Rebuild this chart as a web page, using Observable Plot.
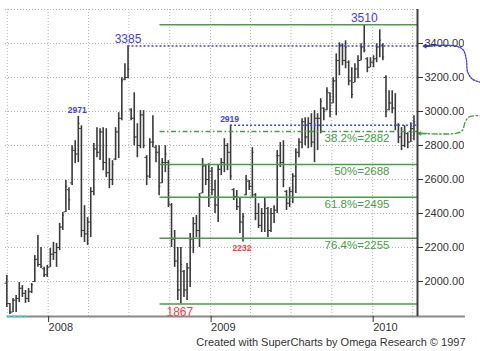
<!DOCTYPE html>
<html><head><meta charset="utf-8">
<script src="https://cdn.jsdelivr.net/npm/d3@7"></script>
<script src="https://cdn.jsdelivr.net/npm/@observablehq/plot@0.6"></script>
<style>
html,body{margin:0;padding:0;background:#fff;}
#chart{width:480px;height:351px;overflow:hidden;}
</style></head><body><div id="chart"></div>
<script>
// ---- data (weekly OHLC bars) ----
const firstBar = "2007-09-30";
const highs = [2035,1871,1900,1918,1994,1976,1947,1959,1988,2153,
2271,2200,2083,2094,2194,2230,2224,2341,2406,2594,
2552,2799,2828,2971,2916,2446,2376,2552,2811,2905,
2899,2905,2899,2723,2711,2905,2993,3198,3281,3385,
3016,3110,2928,3005,3005,2740,2840,2975,2799,2799,
2723,2799,2711,2458,2300,2200,2200,2065,2106,2282,
2376,2388,2517,2723,2682,2693,2670,2594,2682,2723,
2840,2811,2919,2546,2535,2488,2400,2623,2594,2787,
2517,2458,2429,2488,2435,2429,2446,2770,2817,2828,
2535,2552,2634,2781,2840,2958,2963,2963,2987,3005,
2987,3075,3022,3140,3110,3198,3339,3404,3398,3416,
3298,3257,3281,3328,3398,3510,3316,3316,3328,3398,
3480,3398,3210,3122,3122,3105,2928,2905,2916,2875,
2934,2975];
const lows = [1847,1806,1818,1818,1876,1906,1871,1876,1929,1994,
2083,2077,2024,2024,2083,2124,2083,2182,2300,2406,
2418,2564,2693,2699,2258,2229,2212,2258,2505,2728,
2711,2652,2611,2546,2564,2711,2723,2946,3181,3193,
2946,2799,2728,2781,2781,2564,2605,2787,2699,2505,
2576,2640,2435,2200,2083,1888,1867,1906,1888,1965,
2165,2259,2200,2517,2564,2435,2505,2400,2347,2623,
2640,2652,2594,2476,2418,2282,2232,2505,2535,2494,
2358,2312,2288,2288,2259,2288,2341,2400,2670,2552,
2418,2435,2458,2517,2728,2781,2799,2781,2787,2699,
2770,2869,2946,3005,2963,3046,2975,3210,3269,3251,
3151,3075,3169,3193,3298,3345,3228,3257,3257,3287,
3316,3298,2963,3005,2987,2887,2811,2770,2787,2781,
2817,2828];
const opens = [1990,1870,1820,1890,1900,1960,1930,1900,1940,2000,
2130,2100,2075,2040,2085,2160,2170,2200,2320,2410,
2540,2580,2770,2750,2900,2300,2280,2350,2530,2780,
2760,2880,2700,2640,2600,2720,2880,2960,3190,3200,
3010,2960,2850,2800,2980,2730,2620,2820,2790,2760,
2580,2700,2700,2450,2250,2120,1950,2060,1950,2080,
2250,2340,2300,2520,2680,2600,2650,2540,2450,2660,
2700,2800,2760,2540,2500,2440,2350,2510,2590,2560,
2510,2400,2330,2400,2430,2300,2400,2420,2740,2700,
2530,2460,2530,2620,2760,2820,2940,2850,2930,2820,
2960,2960,3020,3010,3110,3050,3180,3300,3390,3300,
3290,3180,3170,3250,3300,3380,3310,3260,3290,3310,
3380,3390,3200,3010,3050,3020,2920,2850,2800,2870,
2820,2900];
const closes = [1870,1820,1890,1900,1960,1930,1900,1940,1980,2130,
2100,2090,2040,2080,2160,2170,2200,2320,2390,2560,
2480,2780,2750,2930,2300,2280,2350,2530,2780,2760,
2880,2700,2640,2600,2690,2880,2960,3180,3200,3250,
2960,2850,2800,2980,2800,2620,2820,2820,2760,2560,
2700,2750,2460,2250,2120,1950,2100,1950,2080,2250,
2340,2300,2500,2680,2600,2650,2540,2450,2660,2700,
2800,2760,2620,2500,2440,2350,2380,2600,2560,2760,
2400,2330,2400,2450,2300,2400,2420,2740,2700,2600,
2460,2530,2620,2760,2820,2940,2850,2930,2820,2960,
2960,3060,3000,3120,3000,3180,3300,3390,3300,3380,
3180,3100,3250,3300,3380,3360,3260,3290,3310,3380,
3420,3320,3000,3050,3020,2920,2850,2800,2880,2820,
2900,2940];

const yTicks = [2000,2200,2400,2600,2800,3000,3200,3400];
const gridValues = [2000,2200,2400,2600,2800,3000,3200,3400,3600];
const yearTicks = ["2008-01-01","2009-01-01","2010-01-01"];
const caption = "Created with SuperCharts by Omega Research \u00A9 1997";

// swing highs / lows that are labelled (bar indices)
const bigHighBars = [39, 115];      // 3385, 3510
const smallHighBars = [23, 72];     // 2971, 2919
const bigLowBars = [56];            // 1867
const smallLowBars = [76];          // 2232
const blueLevelBars = [39, 72];     // dotted lines 3385, 2919

// Fibonacci retracement levels 1867 -> 3510
const fibLevels = [3510, 2882, 2688, 2495, 2255, 1867];
const fibNames  = ["", "38.2%", "50%", "61.8%", "76.4%", ""];
const fibStart = "2008-09-09";
const fibLabelAt = "2010-02-08";

// annotation loops beyond the right axis: [days after axis end, value]
const blueLoop  = [[16,3385],[86,3385],[103,3362],[110,3305],[113,3232],[124,3190],[142,3172]];
const greenLoop = [[7,2871],[86,2871],[101,2888],[107,2935],[116,2968],[142,2976]];

// ---- build ----
const X0 = new Date("2007-09-27"), X1 = new Date("2010-04-12");
const Y0 = 1794, Y1 = 3600;
const bars = highs.map((h,i)=>({date: d3.utcDay.offset(new Date(firstBar), 7*i), high:h, low:lows[i], open:opens[i], close:closes[i]}));
const lbl = idx => idx.map(i=>bars[i]);
const fib = fibLevels.map((v,i)=>({value:v, name:fibNames[i], label: fibNames[i] ? `${fibNames[i]}=${v}` : ""}));
const after = d => d3.utcDay.offset(X1, d);
const blueLine = blueLoop.map(([d,v])=>({date:after(d), value:v}));
const greenLine = greenLoop.map(([d,v])=>({date:after(d), value:v}));
const quarters = d3.utcMonth.every(3).range(new Date("2007-10-01"), new Date("2010-04-02"));

const BLUE = "#4040f0", RED = "#ff3b3b", GREEN = "#45a045", BAR = "#3a3a3a", GRID = "#b4b4b4";
const FONT = "'Liberation Sans', Arial, sans-serif";

const chart = Plot.plot({
  width: 480, height: 351,
  marginLeft: 5, marginRight: 63, marginTop: 9, marginBottom: 35,
  x: {type: "utc", domain: [X0, X1]},
  y: {domain: [Y0, Y1]},
  style: {background: "#fff", color: "#333", fontFamily: FONT, fontSize: "11px", overflow: "visible"},
  marks: [
    Plot.ruleY(gridValues, {stroke: GRID, strokeDasharray: "1,2", strokeWidth: 1}),
    Plot.ruleX(quarters, {stroke: GRID, strokeDasharray: "1,2", strokeWidth: 1}),
    // OHLC bars
    Plot.ruleX(bars, {x: "date", y1: "low", y2: "high", stroke: BAR, strokeWidth: 1.6}),
    Plot.ruleY(bars, {y: "open", x1: d=>d3.utcDay.offset(d.date,-4), x2: "date", stroke: BAR, strokeWidth: 1}),
    Plot.ruleY(bars, {y: "close", x1: "date", x2: d=>d3.utcDay.offset(d.date,4), stroke: BAR, strokeWidth: 1}),
    // fibonacci levels
    Plot.ruleY(fib.filter(d=>d.name!=="38.2%"), {y: "value", x1: new Date(fibStart), x2: X1, stroke: GREEN, strokeWidth: 1.5}),
    Plot.ruleY(fib.filter(d=>d.name==="38.2%"), {y: "value", x1: new Date(fibStart), x2: X1, stroke: GREEN, strokeWidth: 1.5, strokeDasharray: "5,2.5,1.5,2.5"}),
    Plot.text(fib.filter(d=>d.label), {x: new Date(fibLabelAt), y: "value", text: "label", textAnchor: "end", lineAnchor: "top", dy: 2.5, fill: GREEN, fontSize: 11.5}),
    // blue swing-high levels
    Plot.ruleY(lbl(blueLevelBars), {y: "high", x1: "date", x2: X1, stroke: BLUE, strokeWidth: 1.4, strokeDasharray: "2,2"}),
    Plot.line(blueLine, {x: "date", y: "value", stroke: BLUE, strokeWidth: 1.4, strokeDasharray: "1.5,1.5", curve: "catmull-rom"}),
    Plot.line(greenLine, {x: "date", y: "value", stroke: GREEN, strokeWidth: 1.4, strokeDasharray: "5,2.5,1.5,2.5", curve: "catmull-rom"}),
    Plot.arrow([3385], {x1: after(34), x2: after(13), y1: d=>d, y2: d=>d, stroke: BLUE, strokeWidth: 1.5, headLength: 6}),
    Plot.arrow([2871], {x1: after(20), x2: after(2), y1: d=>d, y2: d=>d, stroke: GREEN, strokeWidth: 1.5, headLength: 6}),
    // swing labels
    Plot.text(lbl(bigHighBars), {x: "date", y: "high", text: d=>String(d.high), lineAnchor: "bottom", dy: -3, fill: BLUE, fontSize: 12}),
    Plot.text(lbl(smallHighBars), {x: "date", y: "high", text: d=>String(d.high), lineAnchor: "bottom", dy: -3, dx: -1, fill: BLUE, fontSize: 8.5, fontWeight: "bold"}),
    Plot.text(lbl(bigLowBars), {x: "date", y: "low", text: d=>String(d.low), lineAnchor: "top", dy: 3, dx: -1, fill: RED, fontSize: 12}),
    Plot.text(lbl(smallLowBars), {x: "date", y: "low", text: d=>String(d.low), lineAnchor: "top", dy: 3, dx: -1, fill: RED, fontSize: 8.5, fontWeight: "bold"}),
    // axes
    Plot.ruleY([Y0], {x1: new Date("2007-10-01"), x2: after(108), stroke: "#8a8a8a", strokeWidth: 2}),
    Plot.ruleY([Y0], {x1: new Date("2007-10-01"), x2: new Date("2007-11-14"), stroke: "#30e0e0", strokeWidth: 2, strokeDasharray: "3,3"}),
    Plot.ruleX([X1], {stroke: "#404040", strokeWidth: 2}),
    Plot.axisY(yTicks, {anchor: "right", tickSize: 5, tickPadding: 2, tickFormat: d=>d.toFixed(3), fontSize: 11}),
    Plot.axisX(yearTicks.map(d=>new Date(d)), {anchor: "bottom", tickSize: 6, tickPadding: 0.5, tickFormat: d3.utcFormat("%Y"), textAnchor: "start", dx: 0.5, fontSize: 11}),
    Plot.text([caption], {frameAnchor: "bottom-right", text: d=>d, textAnchor: "end", lineAnchor: "bottom", dx: 48, dy: 29, fontSize: 11, fill: "#333"})
  ]
});

document.getElementById("chart").appendChild(chart);

// clip the right-axis labels at the window edge like the original
const svg = chart.tagName.toLowerCase() === "svg" ? chart : chart.querySelector("svg");
const ns = "http://www.w3.org/2000/svg";
const defs = document.createElementNS(ns, "defs");
const cp = document.createElementNS(ns, "clipPath"); cp.setAttribute("id", "ylabclip");
const r = document.createElementNS(ns, "rect");
r.setAttribute("x", 0); r.setAttribute("y", 0); r.setAttribute("width", 464); r.setAttribute("height", 351);
cp.appendChild(r); defs.appendChild(cp); svg.insertBefore(defs, svg.firstChild);
const g = svg.querySelector('g[aria-label="y-axis tick label"]');
if (g) { const w = document.createElementNS(ns, "g"); w.setAttribute("clip-path", "url(#ylabclip)"); g.parentNode.insertBefore(w, g); w.appendChild(g); }
</script>
</body></html>
